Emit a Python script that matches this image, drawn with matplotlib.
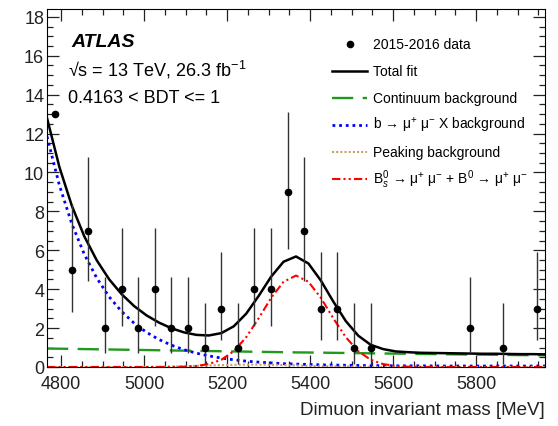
import numpy as np
import matplotlib
matplotlib.use('Agg')
import matplotlib.pyplot as plt
from matplotlib.ticker import MultipleLocator

plt.rcParams['font.family'] = ['Liberation Sans', 'DejaVu Sans']
plt.rcParams['mathtext.fontset'] = 'custom'
plt.rcParams['mathtext.rm'] = 'Liberation Sans'
plt.rcParams['mathtext.it'] = 'Liberation Sans:italic'
plt.rcParams['mathtext.bf'] = 'Liberation Sans:bold'

# Dane: srodki binow (40 MeV), liczba zdarzen i asymetryczne bledy Poissona
mass = [4786, 4826, 4866, 4906, 4946, 4986, 5026, 5066, 5106, 5146,
        5186, 5226, 5266, 5306, 5346, 5386, 5426, 5466, 5506, 5546,
        5786, 5866, 5946]
counts = [13, 5, 7, 2, 4, 2, 4, 2, 2, 1,
          3, 1, 4, 4, 9, 7, 3, 3, 1, 1,
          2, 1, 3]
# pierwszy punkt nie ma narysowanego slupka bledu na oryginale
err_lo = [0.0, 2.16, 2.58, 1.29, 1.91, 1.29, 1.91, 1.29, 1.29, 0.83,
          1.63, 0.83, 1.91, 1.91, 2.94, 2.58, 1.63, 1.63, 0.83, 0.83,
          1.29, 0.83, 1.63]
err_hi = [0.0, 3.38, 3.77, 2.64, 3.16, 2.64, 3.16, 2.64, 2.64, 2.30,
          2.92, 2.30, 3.16, 3.16, 4.11, 3.77, 2.92, 2.92, 2.30, 2.30,
          2.64, 2.30, 2.92]

# Krzywe dopasowania (co 30 MeV od 4766 do 5966)
fit_mass = [4766, 4796, 4826, 4856, 4886, 4916, 4946, 4976, 5006, 5036,
            5066, 5096, 5126, 5156, 5186, 5216, 5246, 5276, 5306, 5336,
            5366, 5396, 5426, 5456, 5486, 5516, 5546, 5576, 5606, 5636,
            5666, 5696, 5726, 5756, 5786, 5816, 5846, 5876, 5906, 5936,
            5966]
continuum = [0.95, 0.94, 0.93, 0.92, 0.91, 0.90, 0.89, 0.88, 0.87, 0.86,
             0.85, 0.84, 0.83, 0.82, 0.81, 0.80, 0.79, 0.78, 0.77, 0.76,
             0.75, 0.745, 0.736, 0.728, 0.719, 0.711, 0.703, 0.695, 0.687, 0.679,
             0.671, 0.663, 0.656, 0.648, 0.641, 0.633, 0.626, 0.619, 0.612, 0.605,
             0.598]
bmumux = [11.85, 9.33, 7.35, 5.79, 4.57, 3.60, 2.85, 2.25, 1.78, 1.41,
          1.12, 0.89, 0.71, 0.57, 0.46, 0.37, 0.30, 0.25, 0.21, 0.17,
          0.15, 0.13, 0.11, 0.10, 0.09, 0.08, 0.07, 0.07, 0.06, 0.06,
          0.06, 0.055, 0.05, 0.05, 0.05, 0.05, 0.05, 0.05, 0.05, 0.05,
          0.05]
peaking = [0.0, 0.0, 0.0, 0.0, 0.0, 0.0, 0.0, 0.0, 0.005, 0.01,
           0.02, 0.04, 0.06, 0.08, 0.10, 0.11, 0.12, 0.12, 0.11, 0.10,
           0.08, 0.06, 0.04, 0.03, 0.02, 0.01, 0.005, 0.0, 0.0, 0.0,
           0.0, 0.0, 0.0, 0.0, 0.0, 0.0, 0.0, 0.0, 0.0, 0.0,
           0.0]
signal = [0.0, 0.0, 0.0, 0.0, 0.0, 0.0, 0.0, 0.0, 0.0, 0.0,
          0.004, 0.016, 0.052, 0.15, 0.37, 0.81, 1.53, 2.50, 3.55, 4.38,
          4.70, 4.38, 3.55, 2.50, 1.53, 0.81, 0.37, 0.15, 0.052, 0.016,
          0.004, 0.0, 0.0, 0.0, 0.0, 0.0, 0.0, 0.0, 0.0, 0.0,
          0.0]
total = [12.80, 10.27, 8.28, 6.71, 5.48, 4.50, 3.74, 3.13, 2.65, 2.28,
         1.99, 1.78, 1.65, 1.62, 1.74, 2.09, 2.74, 3.65, 4.64, 5.41,
         5.68, 5.32, 4.44, 3.36, 2.36, 1.61, 1.14, 0.92, 0.80, 0.76,
         0.73, 0.72, 0.71, 0.70, 0.69, 0.68, 0.68, 0.67, 0.66, 0.66,
         0.65]

green = '#1f9a1f'
tan = '#c8a064'

# style linii: (kolor, grubosc, styl)
st_total = dict(color='black', lw=1.8, linestyle='-')
st_cont = dict(color=green, lw=1.7, dashes=(9, 4))
st_bmx = dict(color='blue', lw=2.0, linestyle=(0, (1, 1.4)))
st_peak = dict(color=tan, lw=1.5, linestyle=(0, (1, 1)))
st_sig = dict(color='red', lw=1.5, linestyle=(0, (4, 1.5, 1, 1.5, 1, 1.5)))

fig = plt.figure(figsize=(5.58, 4.27), dpi=100)
ax = fig.add_axes([0.0842, 0.1382, 0.8925, 0.8384])

ax.plot(fit_mass, continuum, **st_cont)
ax.plot(fit_mass, bmumux, **st_bmx)
ax.plot(fit_mass, peaking, **st_peak)
ax.plot(fit_mass, signal, **st_sig)
ax.plot(fit_mass, total, **st_total)

ax.errorbar(mass, counts, yerr=[err_lo, err_hi], fmt='o', color='black',
            ecolor='#333333', elinewidth=1.0, markersize=4.5, capsize=0, zorder=5)

ax.set_xlim(4766, 5966)
ax.set_ylim(0, 18.4)
ax.xaxis.set_major_locator(MultipleLocator(200))
ax.xaxis.set_minor_locator(MultipleLocator(50))
ax.yaxis.set_major_locator(MultipleLocator(2))
ax.yaxis.set_minor_locator(MultipleLocator(0.5))
ax.tick_params(which='both', direction='in', top=True, right=True, labelsize=13, colors='#222222')
ax.tick_params(which='major', length=8.5, width=0.9)
ax.tick_params(which='minor', length=4.3, width=0.9)
ax.tick_params(axis='x', pad=6)
ax.tick_params(axis='y', pad=2)

ax.set_xlabel('Dimuon invariant mass [MeV]', fontsize=13.5, color='#222222', loc='right', labelpad=6)

ax.text(0.05, 0.908, 'ATLAS', transform=ax.transAxes, fontsize=14, fontweight='bold',
        fontstyle='italic', va='center', ha='left')
ax.text(0.042, 0.832, '√s = 13 TeV, 26.3 fb$^{\\mathrm{-1}}$', transform=ax.transAxes,
        fontsize=13, va='center', ha='left')
ax.text(0.042, 0.754, '0.4163 < BDT <= 1', transform=ax.transAxes, fontsize=13,
        va='center', ha='left')

# Legenda rysowana recznie, rowne odstepy wierszy
labels = [
    '2015-2016 data',
    'Total fit',
    'Continuum background',
    'b → μ$^{+}$ μ$^{-}$ X background',
    'Peaking background',
    'B$^{0}_{s}$ → μ$^{+}$ μ$^{-}$ + B$^{0}$ → μ$^{+}$ μ$^{-}$',
]
styles = [None, st_total, st_cont, st_bmx, st_peak, st_sig]
row_y = [0.902, 0.827, 0.751, 0.676, 0.601, 0.525]
for lab, st, yy in zip(labels, styles, row_y):
    if st is None:
        ax.plot([0.608], [yy], 'o', color='black', markersize=4.5,
                transform=ax.transAxes, clip_on=False)
    else:
        ax.plot([0.572, 0.643], [yy, yy], transform=ax.transAxes, clip_on=False, **st)
    ax.text(0.655, yy, lab, transform=ax.transAxes, fontsize=10, va='center', ha='left')

fig.savefig('out.png', dpi=100)
